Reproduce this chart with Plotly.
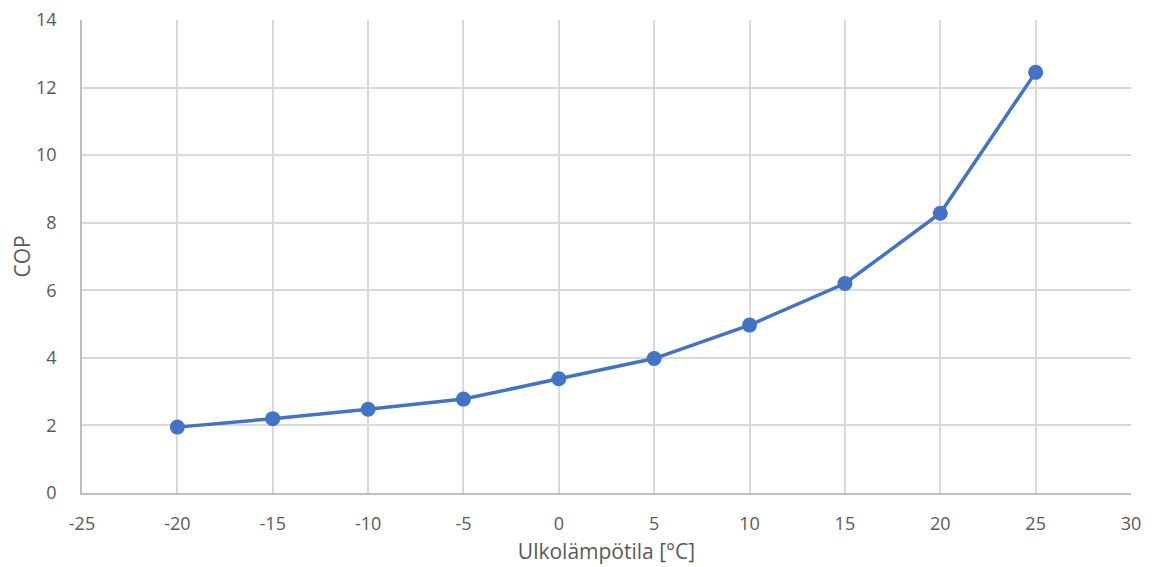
import plotly.graph_objects as go

temps = [-20, -15, -10, -5, 0, 5, 10, 15, 20, 25]
cop = [1.95, 2.2, 2.48, 2.78, 3.38, 3.98, 4.97, 6.2, 8.28, 12.45]

x_ticks = [-25, -20, -15, -10, -5, 0, 5, 10, 15, 20, 25, 30]
y_ticks = [0, 2, 4, 6, 8, 10, 12, 14]

fig = go.Figure()
fig.add_trace(go.Scatter(
    x=temps, y=cop, mode="lines+markers",
    line=dict(color="#4472C4", width=3.5),
    marker=dict(color="#4472C4", size=15),
    showlegend=False,
    cliponaxis=False,
))

font_fam = "Open Sans, Noto Sans, sans-serif"
fig.update_layout(
    width=1155, height=567,
    margin=dict(l=74, r=32, t=12, b=82, autoexpand=False),
    paper_bgcolor="white", plot_bgcolor="white",
    font=dict(family=font_fam, size=18, color="#595959"),
)
fig.update_xaxes(
    range=[-25, 30], tickvals=x_ticks, ticktext=[str(v) for v in x_ticks],
    showgrid=True, gridcolor="#d9d9d9", gridwidth=1.5,
    showline=True, linecolor="#bfbfbf", linewidth=1.5,
    zeroline=False, ticks="", ticklabelstandoff=14,
    tickfont=dict(size=18), ticklabeloverflow="allow",
    title=dict(text="Ulkolämpötila [°C]", font=dict(size=21, color="#595959"), standoff=10),
)
fig.update_yaxes(
    range=[0, 14], tickvals=y_ticks, ticktext=[str(v) for v in y_ticks],
    showgrid=True, gridcolor="#d9d9d9", gridwidth=1.5,
    showline=True, linecolor="#bfbfbf", linewidth=1.5,
    zeroline=False, ticks="", ticklabelstandoff=20,
    tickfont=dict(size=18), ticklabeloverflow="allow",
    title=dict(text="COP", font=dict(size=21, color="#595959"), standoff=22),
)
fig.write_html("out.html")
